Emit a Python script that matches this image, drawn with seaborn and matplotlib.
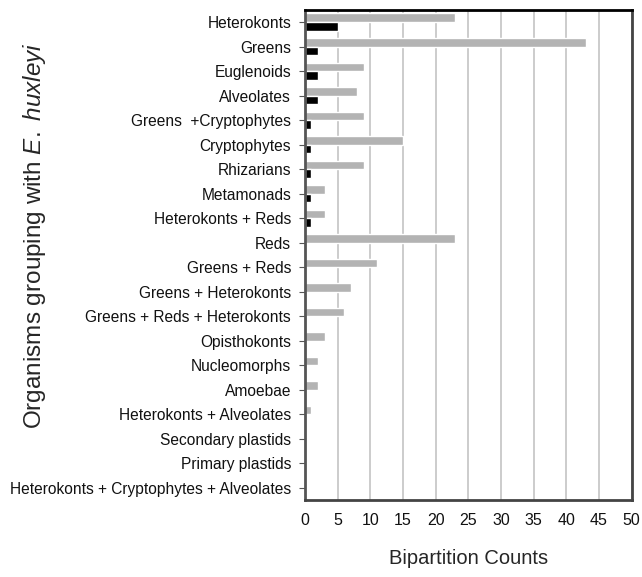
import pandas as pd
import matplotlib
matplotlib.use("Agg")
import matplotlib.pyplot as plt
import seaborn as sns

# Data
groups = [
    "Heterokonts", "Greens", "Euglenoids", "Alveolates", "Greens  +Cryptophytes",
    "Cryptophytes", "Rhizarians", "Metamonads", "Heterokonts + Reds", "Reds",
    "Greens + Reds", "Greens + Heterokonts", "Greens + Reds + Heterokonts",
    "Opisthokonts", "Nucleomorphs", "Amoebae", "Heterokonts + Alveolates",
    "Secondary plastids", "Primary plastids",
    "Heterokonts + Cryptophytes + Alveolates",
]
all_counts = [23, 43, 9, 8, 9, 15, 9, 3, 3, 23, 11, 7, 6, 3, 2, 2, 1, 0, 0, 0]
supported_counts = [5, 2, 2, 2, 1, 1, 1, 1, 1, 0, 0, 0, 0, 0, 0, 0, 0, 0, 0, 0]
series_names = ["All", "Supported"]

df = pd.DataFrame({
    "Group": groups * 2,
    "Counts": all_counts + supported_counts,
    "Series": [series_names[0]] * len(groups) + [series_names[1]] * len(groups),
})

sns.set_style("white")
plt.rcParams["font.family"] = ["Liberation Sans", "DejaVu Sans"]
plt.rcParams["mathtext.fontset"] = "custom"
plt.rcParams["mathtext.it"] = "Liberation Sans:italic"
plt.rcParams["mathtext.rm"] = "Liberation Sans"

fig = plt.figure(figsize=(6.42, 5.77), dpi=100)
ax = fig.add_axes([0.475, 0.133, 0.509, 0.85])

sns.barplot(data=df, x="Counts", y="Group", hue="Series", orient="h",
            palette=["#b3b3b3", "#000000"], width=0.7, ax=ax,
            legend=False, saturation=1)

ax.set_xlim(0, 50)
ax.set_xticks(range(0, 51, 5))
ax.xaxis.grid(True, color="#c4c4c4", linewidth=1.2)
ax.set_axisbelow(True)
ax.tick_params(axis="x", labelsize=11.5, length=0, pad=9)
ax.tick_params(axis="y", labelsize=11.2, length=4, left=True, pad=6, colors="#555555")
for lab in ax.get_yticklabels():
    lab.set_color("#111111")
for lab in ax.get_xticklabels():
    lab.set_color("#111111")

for side in ["left", "right", "top", "bottom"]:
    ax.spines[side].set_visible(True)
    ax.spines[side].set_linewidth(2)
ax.spines["top"].set_color("#000000")
ax.spines["left"].set_color("#555555")
ax.spines["right"].set_color("#444444")
ax.spines["bottom"].set_color("#444444")

ax.set_xlabel("Bipartition Counts", fontsize=14.5, labelpad=15)
ax.set_ylabel(r"Organisms grouping with $\it{E.}$ $\it{huxleyi}$", fontsize=17.5)
ax.yaxis.set_label_coords(-0.785, 0.54)

fig.savefig("out.png", dpi=100)
